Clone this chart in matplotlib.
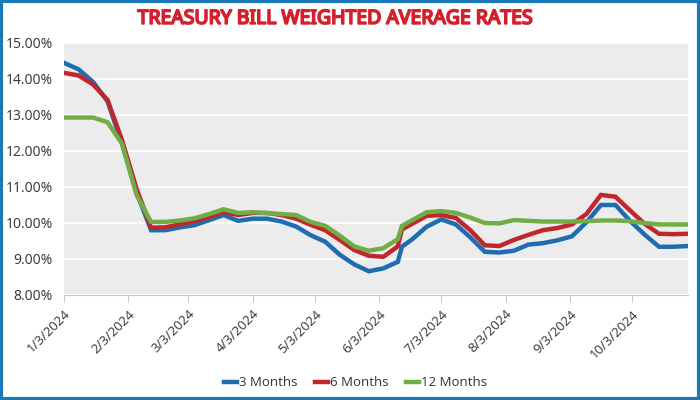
import matplotlib
matplotlib.use("Agg")
import matplotlib.pyplot as plt
import matplotlib.patheffects as pe
import pandas as pd
from matplotlib.patches import Rectangle
from matplotlib.ticker import FuncFormatter, MultipleLocator

# weekly auction dates (one extra point on the mid-June jump)
dates = list(pd.date_range("2024-01-03", periods=24, freq="7D")) + [pd.Timestamp("2024-06-14")] + \
    list(pd.date_range("2024-06-19", periods=20, freq="7D"))

rate_3m = [14.45, 14.27, 13.92, 13.38, 12.20, 10.85, 9.80, 9.80, 9.88, 9.94, 10.08, 10.22,
           10.06, 10.12, 10.12, 10.04, 9.90, 9.66, 9.48, 9.12, 8.85, 8.66, 8.74, 8.92,
           9.34, 9.55, 9.90, 10.10, 9.96, 9.60, 9.20, 9.18, 9.23, 9.40, 9.44, 9.52,
           9.63, 10.02, 10.50, 10.50, 10.06, 9.68, 9.34, 9.34, 9.36]
rate_6m = [14.17, 14.10, 13.85, 13.42, 12.30, 10.95, 9.87, 9.88, 9.97, 10.05, 10.17, 10.31,
           10.22, 10.28, 10.28, 10.22, 10.12, 9.95, 9.80, 9.53, 9.25, 9.09, 9.06, 9.35,
           9.82, 9.98, 10.20, 10.22, 10.14, 9.80, 9.38, 9.36, 9.53, 9.67, 9.80, 9.86,
           9.96, 10.25, 10.78, 10.73, 10.35, 9.98, 9.70, 9.69, 9.70]
rate_12m = [12.93, 12.93, 12.93, 12.80, 12.20, 10.78, 10.03, 10.03, 10.07, 10.13, 10.25, 10.38,
            10.28, 10.30, 10.27, 10.25, 10.22, 10.03, 9.92, 9.65, 9.35, 9.23, 9.30, 9.55,
            9.92, 10.08, 10.30, 10.33, 10.28, 10.15, 10.00, 9.99, 10.08, 10.06, 10.04, 10.04,
            10.04, 10.05, 10.07, 10.07, 10.05, 10.00, 9.96, 9.96, 9.96]

tick_dates = pd.date_range("2024-01-01", periods=10, freq="MS") + pd.Timedelta(days=2)

series = [("3 Months", rate_3m, "#1f6db0"),
          ("6 Months", rate_6m, "#c0272d"),
          ("12 Months", rate_12m, "#70ad47")]

fig = plt.figure(figsize=(7, 4), dpi=100)
ax = fig.add_axes([0.0914, 0.2625, 0.8915, 0.63])
ax.set_facecolor("#ececec")

for name, vals, color in series:
    ax.plot(dates, vals, color=color, linewidth=3.2, label=name, solid_joinstyle="miter")

ax.set_ylim(8, 15)
ax.set_xlim(dates[0], dates[-1])
ax.yaxis.set_major_locator(MultipleLocator(1))
ax.yaxis.set_major_formatter(FuncFormatter(lambda v, _: f"{v:.2f}%"))
ax.grid(axis="y", color="white", linewidth=1.2)
ax.set_axisbelow(True)

ax.set_xticks(tick_dates)
ax.set_xticklabels([f"{d.month}/{d.day}/{d.year}" for d in tick_dates])
plt.setp(ax.get_xticklabels(), rotation=45, ha="right", rotation_mode="anchor")

for side in ("top", "right", "left"):
    ax.spines[side].set_visible(False)
ax.spines["bottom"].set_color("#c8c8c8")
ax.tick_params(axis="y", length=0, labelsize=10, colors="#333333", pad=8)
ax.tick_params(axis="x", length=5, color="#c8c8c8", labelsize=9.5, labelcolor="#333333", pad=4)
for lbl in ax.get_xticklabels() + ax.get_yticklabels():
    lbl.set_fontfamily("Open Sans")

# only the regular condensed cut is installed, so thicken it with a stroke
title_color = "#d4202c"
fig.text(0.478, 0.953, "TREASURY BILL WEIGHTED AVERAGE RATES", ha="center", va="center",
         color=title_color, fontsize=14, fontstretch="condensed", family="Noto Sans",
         path_effects=[pe.withStroke(linewidth=1.3, foreground=title_color)])

leg = fig.legend(loc="center", bbox_to_anchor=(0.508, 0.043), ncol=3, frameon=False,
                 handlelength=1.0, handletextpad=0.15, columnspacing=1.3,
                 prop={"family": "Open Sans", "size": 9.5})
for t in leg.get_texts():
    t.set_color("#333333")

fig.patches.append(Rectangle((0.002, 0.003), 0.996, 0.994, transform=fig.transFigure,
                             fill=False, edgecolor="#1b79b8", linewidth=3))

fig.savefig("out.png", dpi=100)
